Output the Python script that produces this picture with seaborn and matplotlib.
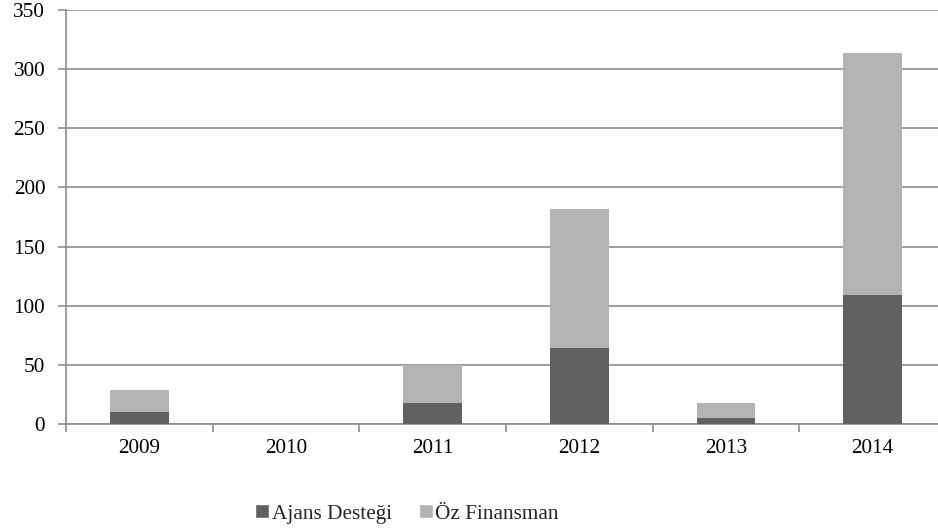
import matplotlib
matplotlib.use("Agg")
import matplotlib.pyplot as plt
from matplotlib.patches import Patch
import seaborn as sns
import pandas as pd

years = ["2009", "2010", "2011", "2012", "2013", "2014"]
ajans = [10, 0, 18, 64, 5, 109]
oz = [18.5, 0, 32, 117.5, 12.5, 204.5]
yticks = [0, 50, 100, 150, 200, 250, 300, 350]

dark = "#606060"
light = "#b3b3b3"
grid = "#8c8c8c"
fs = 15.3

sns.set_theme(style="white")
plt.rcParams["font.family"] = ["Liberation Serif", "DejaVu Serif"]

df = pd.DataFrame({"year": years, "ajans": ajans, "oz": oz})
df["total"] = df["ajans"] + df["oz"]

fig = plt.figure(figsize=(9.38, 5.28), dpi=100)
ax = fig.add_axes([66 / 938, 104 / 528, 880 / 938, 414 / 528])

sns.barplot(data=df, x="year", y="total", color=light, width=0.4,
            saturation=1, ax=ax, zorder=3, linewidth=0)
sns.barplot(data=df, x="year", y="ajans", color=dark, width=0.4,
            saturation=1, ax=ax, zorder=4, linewidth=0)

ax.set_xlim(-0.5, 5.5)
ax.set_ylim(0, 350)
ax.set_yticks(yticks)
ax.yaxis.grid(True, color=grid, linewidth=1.2, zorder=0)
ax.set_axisbelow(True)
ax.set_xlabel("")
ax.set_ylabel("")

for s in ["top", "right"]:
    ax.spines[s].set_visible(False)
for s in ["left", "bottom"]:
    ax.spines[s].set_color(grid)
    ax.spines[s].set_linewidth(1.2)

ax.set_xticks(range(len(years)))
ax.set_xticklabels(years)
ax.set_xticks([i - 0.5 for i in range(len(years) + 1)], minor=True)
ax.tick_params(axis="x", which="major", length=0, pad=10.5, labelsize=fs, labelcolor="black")
ax.tick_params(axis="x", which="minor", length=6, width=1.2, color=grid, direction="out", bottom=True)
ax.tick_params(axis="y", which="major", length=6, width=1.2, color=grid, direction="out", left=True,
               labelsize=fs, labelcolor="black", pad=9)

handles = [Patch(facecolor=dark, label="Ajans Desteği"),
           Patch(facecolor=light, label="Öz Finansman")]
fig.legend(handles=handles, loc="center", bbox_to_anchor=(0.434, 0.027), ncol=2,
           frameon=False, fontsize=fs, handlelength=0.66, handleheight=0.66,
           handletextpad=0.12, columnspacing=1.27, borderpad=0, borderaxespad=0)

fig.savefig("out.png", dpi=100)
